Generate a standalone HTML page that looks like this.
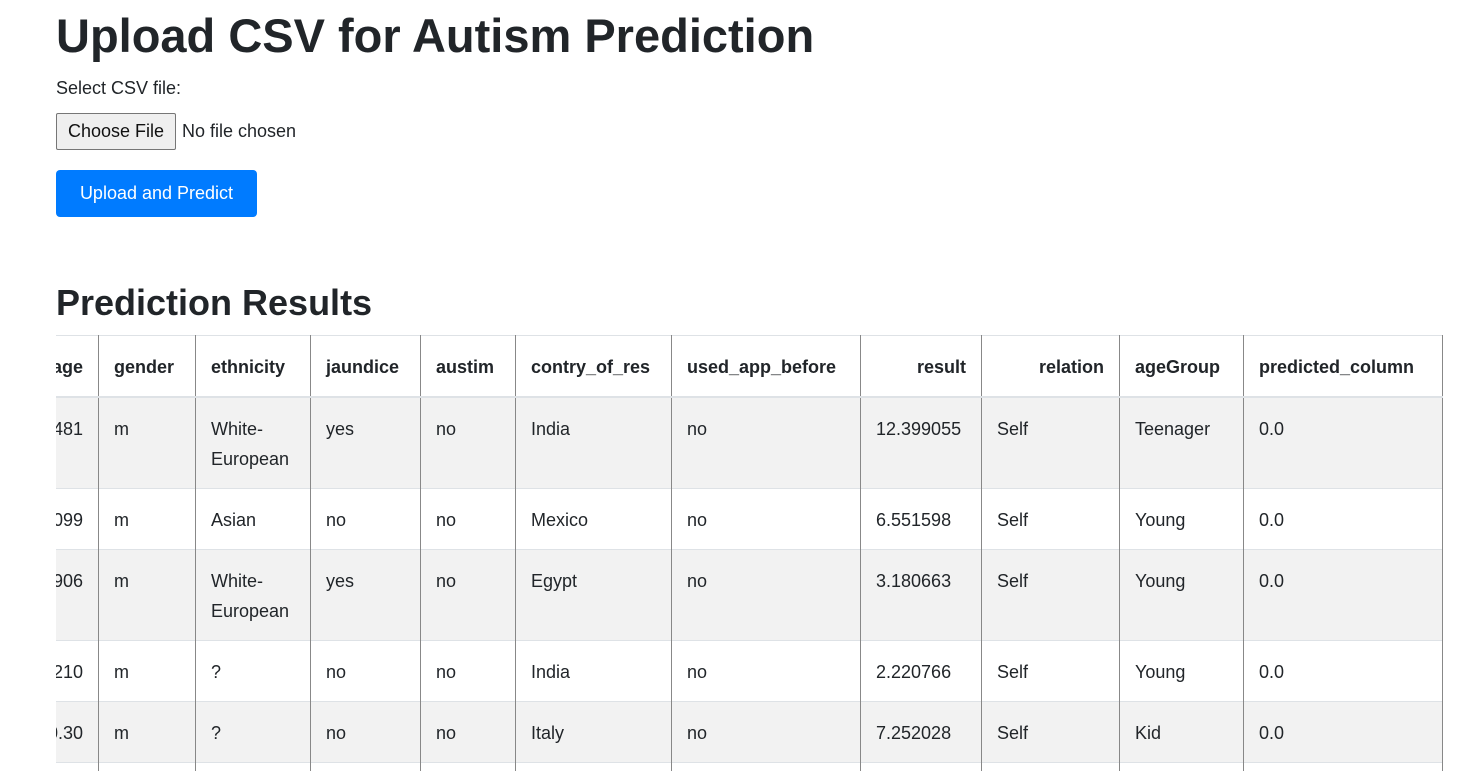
<!DOCTYPE html>
<html><head><meta charset="utf-8">
<style>
html,body{margin:0;width:1462px;height:771px;overflow:hidden}
body{background:#fff;font-family:"Liberation Sans",sans-serif;color:#212529;position:relative}
.a{position:absolute;white-space:nowrap}
h1{margin:0;font-weight:bold;font-size:47px;left:56px;top:8px}
h2{margin:0;font-weight:bold;font-size:36px;left:56px;top:282px}
.lbl{font-size:18px;left:56px;top:78px}
.file{left:56px;top:113px;width:118px;height:35px;border:1px solid #767676;border-radius:2px;background:#efefef;font-size:18px;line-height:35px;text-align:center;color:#111}
.nf{left:182px;top:121px;font-size:18px}
.btn{left:56px;top:170px;width:201px;height:47px;background:#007bff;border-radius:4px;color:#fff;font-size:18px;line-height:47px;text-align:center}
.wrap{position:absolute;left:56px;top:335px;width:1387px;height:436px;overflow:hidden}
table{border-collapse:collapse;margin-left:-60px;table-layout:fixed;font-size:18px}
td,th{border-left:1px solid #888;border-right:1px solid #888;border-top:1px solid #dee2e6;padding:16px 15px 0 15px;vertical-align:top;line-height:30px;text-align:left}
th{border-bottom:2px solid #dee2e6;font-weight:bold;height:44px;padding-top:16px}
tr.s td{background:#f2f2f2}
.r{text-align:right}
tr.t td{height:44px}
tr.w td{height:74px}
</style></head><body>
<h1 class="a">Upload CSV for Autism Prediction</h1>
<div class="a lbl">Select CSV file:</div>
<div class="a file">Choose File</div>
<div class="a nf">No file chosen</div>
<div class="a btn">Upload and Predict</div>
<h2 class="a">Prediction Results</h2>
<div class="wrap">
<table>
<colgroup><col style="width:102px"><col style="width:97px"><col style="width:115px"><col style="width:110px"><col style="width:95px"><col style="width:156px"><col style="width:189px"><col style="width:121px"><col style="width:138px"><col style="width:124px"><col style="width:199px"></colgroup>
<tr><th class="r">age</th><th>gender</th><th>ethnicity</th><th>jaundice</th><th>austim</th><th>contry_of_res</th><th>used_app_before</th><th class="r">result</th><th class="r">relation</th><th>ageGroup</th><th>predicted_column</th></tr>
<tr class="s w"><td class="r">15.5481</td><td>m</td><td>White-European</td><td>yes</td><td>no</td><td>India</td><td>no</td><td>12.399055</td><td>Self</td><td>Teenager</td><td>0.0</td></tr>
<tr class="t"><td class="r">22.3099</td><td>m</td><td>Asian</td><td>no</td><td>no</td><td>Mexico</td><td>no</td><td>6.551598</td><td>Self</td><td>Young</td><td>0.0</td></tr>
<tr class="s w"><td class="r">23.5906</td><td>m</td><td>White-European</td><td>yes</td><td>no</td><td>Egypt</td><td>no</td><td>3.180663</td><td>Self</td><td>Young</td><td>0.0</td></tr>
<tr class="t"><td class="r">20.1210</td><td>m</td><td>?</td><td>no</td><td>no</td><td>India</td><td>no</td><td>2.220766</td><td>Self</td><td>Young</td><td>0.0</td></tr>
<tr class="s t"><td class="r">10.30</td><td>m</td><td>?</td><td>no</td><td>no</td><td>Italy</td><td>no</td><td>7.252028</td><td>Self</td><td>Kid</td><td>0.0</td></tr>
<tr class="t"><td class="r">&nbsp;</td><td></td><td></td><td></td><td></td><td></td><td></td><td></td><td></td><td></td><td></td></tr>
</table>
</div>
</body></html>
